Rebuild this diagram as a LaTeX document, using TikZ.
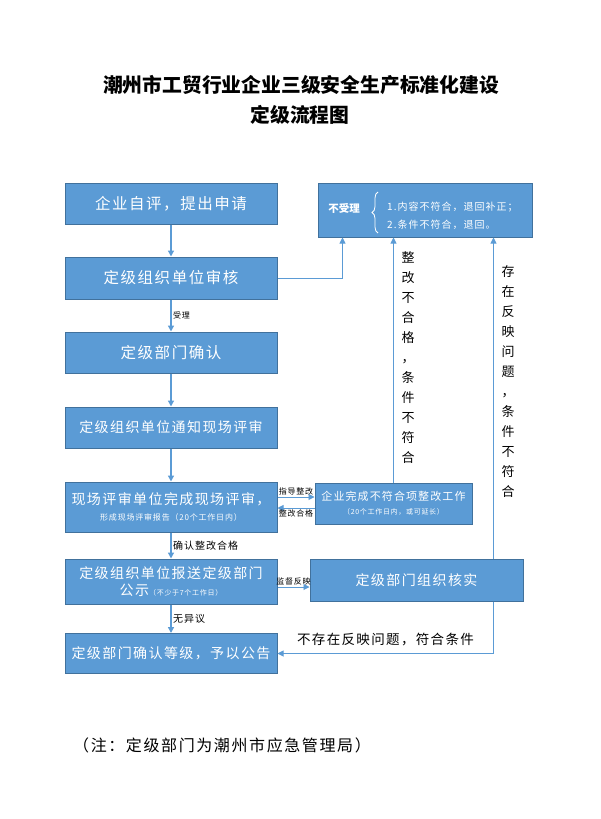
\documentclass[tikz,border=0pt]{standalone}
\usepackage{fontspec}
\setmainfont{Noto Sans CJK SC}
\newfontfamily\boxfont[LetterSpace=10]{Noto Sans CJK SC}
\usetikzlibrary{arrows.meta,decorations.pathreplacing,positioning,calc}
\definecolor{boxfill}{RGB}{91,155,213}
\definecolor{boxline}{RGB}{65,113,156}
\tikzset{
 stepbox/.style={draw=boxline,line width=1pt,fill=boxfill,text=white,inner sep=0pt,
   align=center,minimum width=212,font=\boxfont\fontsize{14}{17}\selectfont},
 flow/.style={draw=boxfill,line width=1.4pt,-{Triangle[length=6pt,width=6pt]}},
 side/.style={draw=boxfill,line width=0.9pt,-{Triangle[length=6pt,width=6pt]}},
 tag/.style={font=\boxfont\fontsize{8}{9}\selectfont,inner sep=1.5pt},
 vtext/.style={font=\boxfont\fontsize{13}{20}\selectfont,align=center,inner sep=0pt},
}
\begin{document}
\begin{tikzpicture}[x=1pt,y=-1pt]
\useasboundingbox (0,0) rectangle (600,819);
% title
\node[font=\bfseries\fontsize{19.8}{22}\selectfont] (title) at (301,85) {潮州市工贸行业企业三级安全生产标准化建设};
\node[font=\bfseries\fontsize{19.8}{22}\selectfont] (title2) at (300,115) {定级流程图};
% main column
\node[stepbox,minimum height=41,font=\boxfont\fontsize{15.5}{18}\selectfont] (apply) at (171,203.5) {企业自评，提出申请};
\node[stepbox,minimum height=42,font=\boxfont\fontsize{15.5}{18}\selectfont] (review) at (171,278) {定级组织单位审核};
\node[stepbox,minimum height=41,font=\boxfont\fontsize{15.5}{18}\selectfont] (confirm) at (171,352.5) {定级部门确认};
\node[stepbox,minimum height=41] (notify) at (171,427.5) {定级组织单位通知现场评审};
\node[stepbox,minimum height=50] (onsite) at (171,507) {现场评审单位完成现场评审，\\[-1pt]{\fontsize{8}{10}\selectfont 形成现场评审报告（20个工作日内）}};
\node[stepbox,minimum height=45] (publicize) at (171,581.5) {定级组织单位报送定级部门\\公示{\fontsize{7}{9}\selectfont（不少于7个工作日）}};
\node[stepbox,minimum height=40] (grade) at (171,653.5) {定级部门确认等级，予以公告};
% right column
\node[stepbox,minimum width=214,minimum height=54] (reject) at (425,210) {};
\node[font=\bfseries\fontsize{10.5}{12}\selectfont,text=white,inner sep=0pt] (rejtag) at (344,208) {不受理};
\node[font=\boxfont\fontsize{10}{18}\selectfont,text=white,align=left,anchor=west,inner sep=0pt] (rejwhy) at (387,216) {1.内容不符合，退回补正；\\2.条件不符合，退回。};
\draw[white,line width=0.8pt,decorate,decoration={brace,amplitude=6pt}] (378,233) -- (378,192);
\node[stepbox,minimum width=157,minimum height=41,font=\boxfont\fontsize{11}{14}\selectfont] (rectify) at (393.5,503.5) {企业完成不符合项整改工作\\{\fontsize{7}{9}\selectfont（20个工作日内，或可延长）}};
\node[stepbox,minimum width=213,minimum height=42] (verify) at (416.5,580) {定级部门组织核实};
% main flow
\draw[flow] (apply) -- (review);
\draw[flow] (review) -- node[tag,right]{受理} (confirm);
\draw[flow] (confirm) -- (notify);
\draw[flow] (notify) -- (onsite);
\draw[flow] (onsite) -- node[tag,right,font=\boxfont\fontsize{10}{12}\selectfont]{确认整改合格} (publicize);
\draw[flow] (publicize) -- node[tag,right,font=\boxfont\fontsize{10}{12}\selectfont]{无异议} (grade);
% side branches
\draw[side] (review.east) -| ($(reject.south west)+(25,0)$);
\draw[side] (rectify.north) -- (rectify.north |- reject.south);
\coordinate (upcol) at ($(verify.north east)+(-30,0)$);
\draw[side] (upcol) -- (upcol |- reject.south);
\coordinate (downcol) at ($(verify.south east)+(-30,0)$);
\draw[side] (downcol) |- (grade.east) node[pos=0.75,above=4pt,font=\boxfont\fontsize{13.5}{15}\selectfont]{不存在反映问题，符合条件};
\coordinate (guide) at ($(onsite.east)+(0,-10)$);
\draw[side] (guide) -- node[tag,above]{指导整改} (guide -| rectify.west);
\coordinate (passed) at ($(rectify.west)+(0,4.5)$);
\draw[side] (passed) -- node[tag,below]{整改合格} (passed -| onsite.east);
\coordinate (report) at ($(publicize.east)+(0,5.5)$);
\draw[side] (report) -- node[tag,above]{监督反映} (report -| verify.west);
% vertical labels
\node[vtext] (failtext) at (408,358) {整\\改\\不\\合\\格\\，\\条\\件\\不\\符\\合};
\node[vtext] (issuetext) at (508,382) {存\\在\\反\\映\\问\\题\\，\\条\\件\\不\\符\\合};
% note
\node[font=\boxfont\fontsize{16}{18}\selectfont] (note) at (222,745) {（注：定级部门为潮州市应急管理局）};
\end{tikzpicture}
\end{document}
